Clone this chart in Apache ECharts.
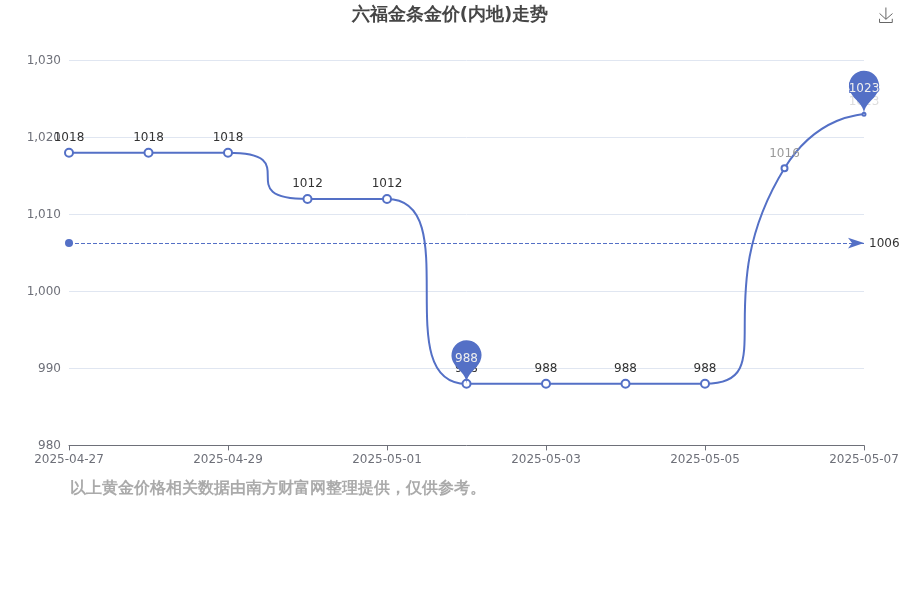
<!DOCTYPE html>
<html>
<head>
<meta charset="utf-8">
<style>
  html, body { margin: 0; padding: 0; background: #fff; }
  #main { width: 900px; height: 600px; }
</style>
<script src="https://cdn.jsdelivr.net/npm/echarts@6/dist/echarts.min.js"></script>
</head>
<body>
<div id="main"></div>
<script>
const dates = ['2025-04-27', '2025-04-28', '2025-04-29', '2025-04-30', '2025-05-01', '2025-05-02',
  '2025-05-03', '2025-05-04', '2025-05-05', '2025-05-06', '2025-05-07'];
const prices = [1018, 1018, 1018, 1012, 1012, 988, 988, 988, 988, 1016, 1023];
const titleText = '六福金条金价(内地)走势';
const noteText = '以上黄金价格相关数据由南方财富网整理提供，仅供参考。';

// 最后两个点的标注是淡的，点也更小
const fadedPoints = {
  9: { size: 6, labelColor: '#999' },
  10: { size: 3, labelColor: '#ddd' }
};

const fontFamily = '"DejaVu Sans"';

const chart = echarts.init(document.getElementById('main'));
chart.setOption({
  animation: false,
  color: ['#5470c6'],
  textStyle: { fontFamily: fontFamily },
  title: [{
    text: titleText,
    left: 'center',
    top: 1,
    textStyle: { fontSize: 18, fontWeight: 'bold', color: '#464646', fontFamily: fontFamily }
  }, {
    text: noteText,
    left: 65,
    top: 476,
    textStyle: { fontSize: 16, fontWeight: 'bold', color: '#aaa', fontFamily: fontFamily }
  }],
  toolbox: {
    right: -10,
    top: -10,
    iconStyle: { borderColor: '#666' },
    feature: { saveAsImage: { title: '' } }
  },
  grid: { left: 69, right: 36, top: 60.4, height: 385, outerBoundsMode: 'none' },
  xAxis: {
    type: 'category',
    boundaryGap: false,
    data: dates,
    axisLabel: { interval: 1, color: '#6e7079', margin: 8 },
    axisTick: { interval: 1, lineStyle: { color: '#6e7079' } },
    axisLine: { lineStyle: { color: '#6e7079' } }
  },
  yAxis: {
    type: 'value',
    min: 980,
    max: 1030,
    interval: 10,
    axisLabel: { color: '#6e7079' },
    splitLine: { lineStyle: { color: '#e0e6f1' } }
  },
  series: [{
    type: 'line',
    smooth: 1,
    symbolSize: 8,
    showAllSymbol: true,
    data: prices.map((v, i) => {
      const f = fadedPoints[i];
      if (!f) return v;
      return {
        value: v,
        symbolSize: f.size,
        label: { color: f.labelColor, distance: 4 }
      };
    }),
    lineStyle: { width: 2 },
    label: { show: true, position: 'top', color: '#333', fontSize: 12, distance: 4 },
    markPoint: {
      label: { offset: [0, 1] },
      data: [{ type: 'max' }, { type: 'min' }]
    },
    markLine: {
      label: {
        color: '#333',
        offset: [0, 1],
        formatter: p => Math.round(p.value)
      },
      data: [{ type: 'average' }]
    }
  }]
});
</script>
</body>
</html>
